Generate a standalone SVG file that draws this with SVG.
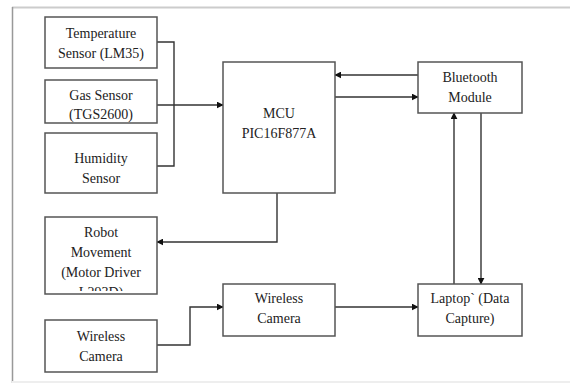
<svg xmlns="http://www.w3.org/2000/svg" width="570" height="383" viewBox="0 0 570 383">
<style>
.box{fill:#fff;stroke:#555;stroke-width:1.5}
.t{font-family:"Liberation Serif","Times New Roman",serif;font-size:14px;fill:#222;text-anchor:middle}
.c{fill:none;stroke:#333;stroke-width:1.4}
</style>
<defs>
<marker id="ah" viewBox="0 0 10 10" refX="9" refY="5" markerWidth="7" markerHeight="7" orient="auto" markerUnits="userSpaceOnUse">
<path d="M0,0 L10,5 L0,10 Z" fill="#111"/>
</marker>
<clipPath id="robotClip"><rect x="45" y="217" width="112" height="74"/></clipPath>
</defs>
<rect width="570" height="383" fill="#fff"/>
<g id="frame">
<line x1="12" y1="7.5" x2="570" y2="7.5" stroke="#ccc" stroke-width="2"/>
<line x1="12.5" y1="7" x2="12.5" y2="383" stroke="#999" stroke-width="1.5"/>
<line x1="12" y1="382" x2="570" y2="382" stroke="#eee" stroke-width="2"/>
</g>
<g id="connectors">
<polyline class="c" points="157,42 174,42 174,166 157,166"/>
<line class="c" x1="157" y1="105" x2="223" y2="105" marker-end="url(#ah)"/>
<line class="c" x1="418" y1="75" x2="335" y2="75" marker-end="url(#ah)"/>
<line class="c" x1="335" y1="97" x2="418" y2="97" marker-end="url(#ah)"/>
<line class="c" x1="454" y1="284" x2="454" y2="113" marker-end="url(#ah)"/>
<line class="c" x1="481" y1="113" x2="481" y2="284" marker-end="url(#ah)"/>
<polyline class="c" points="277,193 277,242 157,242" marker-end="url(#ah)"/>
<polyline class="c" points="157,345 190,345 190,307 223,307" marker-end="url(#ah)"/>
<line class="c" x1="335" y1="307" x2="418" y2="307" marker-end="url(#ah)"/>
</g>
<g id="temp">
<rect class="box" x="45" y="17" width="112" height="51"/>
<text class="t" x="101" y="38">Temperature</text>
<text class="t" x="101" y="58">Sensor (LM35)</text>
</g>
<g id="gas">
<rect class="box" x="45" y="80" width="112" height="43"/>
<text class="t" x="101" y="100">Gas Sensor</text>
<text class="t" x="101" y="119">(TGS2600)</text>
</g>
<g id="humidity">
<rect class="box" x="45" y="133" width="112" height="60"/>
<text class="t" x="101" y="163">Humidity</text>
<text class="t" x="101" y="183">Sensor</text>
</g>
<g id="mcu">
<rect class="box" x="223" y="62" width="112" height="131"/>
<text class="t" x="279" y="118">MCU</text>
<text class="t" x="279" y="138">PIC16F877A</text>
</g>
<g id="bluetooth">
<rect class="box" x="418" y="62" width="104" height="51"/>
<text class="t" x="470" y="82">Bluetooth</text>
<text class="t" x="470" y="102">Module</text>
</g>
<g id="robot">
<rect class="box" x="45" y="217" width="112" height="77"/>
<g clip-path="url(#robotClip)">
<text class="t" x="101" y="237">Robot</text>
<text class="t" x="101" y="257">Movement</text>
<text class="t" x="101" y="277">(Motor Driver</text>
<text class="t" x="101" y="297">L293D)</text>
</g>
</g>
<g id="camera1">
<rect class="box" x="45" y="320" width="112" height="52"/>
<text class="t" x="101" y="341">Wireless</text>
<text class="t" x="101" y="361">Camera</text>
</g>
<g id="camera2">
<rect class="box" x="223" y="284" width="112" height="52"/>
<text class="t" x="279" y="303">Wireless</text>
<text class="t" x="279" y="323">Camera</text>
</g>
<g id="laptop">
<rect class="box" x="418" y="284" width="104" height="52"/>
<text class="t" x="470" y="303">Laptop` (Data</text>
<text class="t" x="470" y="323">Capture)</text>
</g>
</svg>
